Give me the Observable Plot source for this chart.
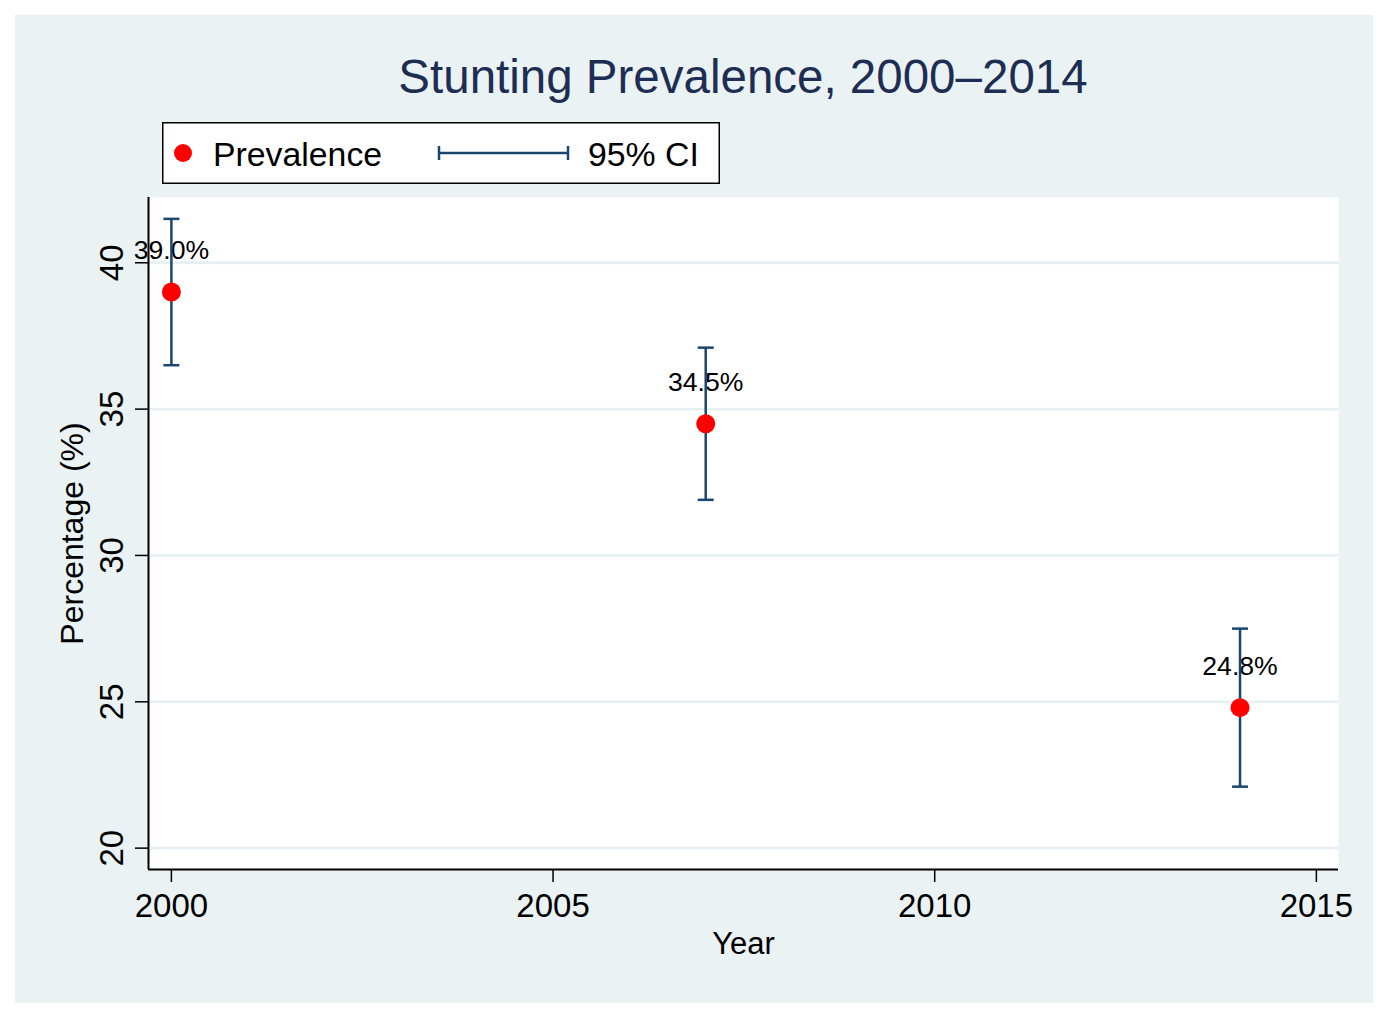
<!DOCTYPE html>
<html>
<head>
<meta charset="utf-8">
<script src="https://cdn.jsdelivr.net/npm/d3@7"></script>
<script src="https://cdn.jsdelivr.net/npm/@observablehq/plot@0.6"></script>
<style>
  html, body { margin: 0; padding: 0; background: #ffffff; }
  #wrap { position: relative; width: 1387px; height: 1018px; font-family: "Liberation Sans", Arial, Helvetica, sans-serif; }
  #bg { position: absolute; left: 15px; top: 15px; width: 1358px; height: 988px; background: #EAF2F3; }
  #title { position: absolute; left: 148px; width: 1190px; top: 52.8px; text-align: center; font-size: 47.5px; line-height: 1; color: #1E2D53; white-space: nowrap; }
  #legend { position: absolute; left: 162px; top: 122px; }
  #chart { position: absolute; left: 0; top: 0; }
</style>
</head>
<body>
<div id="wrap">
  <div id="bg"></div>
  <div id="chart"></div>
  <div id="title">Stunting Prevalence, 2000–2014</div>
  <div id="legend"></div>
</div>
<script>
// ---- data ----
const years = [2000, 2007, 2014];
const prevalence = [39.0, 34.5, 24.8];
const ciLow = [36.5, 31.9, 22.1];
const ciHigh = [41.5, 37.1, 27.5];
const xTicks = [2000, 2005, 2010, 2015];
const yTicks = [20, 25, 30, 35, 40];
const xDomain = [1999.70, 2015.29];
const yDomain = [19.27, 42.23];

const data = years.map((y, i) => ({year: y, prev: prevalence[i], lo: ciLow[i], hi: ciHigh[i]}));

const navy = "#1A476F";
const font = "'Liberation Sans', Arial, Helvetica, sans-serif";

const capSymbol = {
  draw(context, size) {
    context.moveTo(-8, 0);
    context.lineTo(8, 0);
  }
};

const chart = Plot.plot({
  width: 1387,
  height: 1018,
  marginLeft: 148,
  marginRight: 49,
  marginTop: 197,
  marginBottom: 149,
  style: {background: "transparent", overflow: "visible", fontFamily: font, color: "black"},
  x: {domain: xDomain},
  y: {domain: yDomain},
  marks: [
    Plot.frame({fill: "white", stroke: null}),
    Plot.gridY(yTicks, {stroke: "#E6EFF1", strokeOpacity: 1, strokeWidth: 2.8}),
    Plot.ruleX([xDomain[0]], {stroke: "black", strokeWidth: 2}),
    Plot.ruleY([yDomain[0]], {stroke: "black", strokeWidth: 2}),
    Plot.axisX(xTicks, {tickSize: 13, tickPadding: 11.5, fontSize: 33, tickFormat: d => String(d), label: null, stroke: "black", strokeWidth: 1.5, fill: "black"}),
    Plot.axisY(yTicks, {tickSize: 13, tickPadding: 13, tickRotate: -90, fontSize: 33, tickFormat: d => String(d), label: null, stroke: "black", strokeWidth: 1.5, fill: "black"}),
    Plot.text(["Year"], {frameAnchor: "bottom", dy: 84, lineAnchor: "bottom", fontSize: 31, fill: "black"}),
    Plot.text(["Percentage (%)"], {frameAnchor: "left", dx: -66, rotate: -90, lineAnchor: "bottom", textAnchor: "middle", fontSize: 32, fill: "black"}),
    Plot.text(data, {x: "year", y: "prev", text: d => d.prev.toFixed(1) + "%", dy: -33, lineAnchor: "bottom", fontSize: 26.6, fill: "black"}),
    Plot.ruleX(data, {x: "year", y1: "lo", y2: "hi", stroke: navy, strokeWidth: 2.5}),
    Plot.dot(data, {x: "year", y: "hi", symbol: capSymbol, r: 5, fill: "none", stroke: navy, strokeWidth: 2.5}),
    Plot.dot(data, {x: "year", y: "lo", symbol: capSymbol, r: 5, fill: "none", stroke: navy, strokeWidth: 2.5}),
    Plot.dot(data, {x: "year", y: "prev", r: 9.5, fill: "#FF0000", stroke: null})
  ]
});
document.getElementById("chart").appendChild(chart);

// ---- legend ----
const legendItems = ["Prevalence", "95% CI"];
const ns = "http://www.w3.org/2000/svg";
const lg = document.createElementNS(ns, "svg");
lg.setAttribute("width", 558);
lg.setAttribute("height", 62);
lg.innerHTML = `
  <rect x="0.75" y="0.75" width="556.5" height="60.5" fill="white" stroke="black" stroke-width="1.5"/>
  <circle cx="21" cy="31" r="9" fill="#FF0000"/>
  <text x="51" y="43.5" font-size="33.8" font-family="${font}" fill="black">${legendItems[0]}</text>
  <line x1="277" x2="406" y1="31" y2="31" stroke="${navy}" stroke-width="2.5"/>
  <line x1="277" x2="277" y1="24" y2="38" stroke="${navy}" stroke-width="2.5"/>
  <line x1="406" x2="406" y1="24" y2="38" stroke="${navy}" stroke-width="2.5"/>
  <text x="426" y="43.5" font-size="33.8" font-family="${font}" fill="black">${legendItems[1]}</text>
`;
document.getElementById("legend").appendChild(lg);
</script>
</body>
</html>
